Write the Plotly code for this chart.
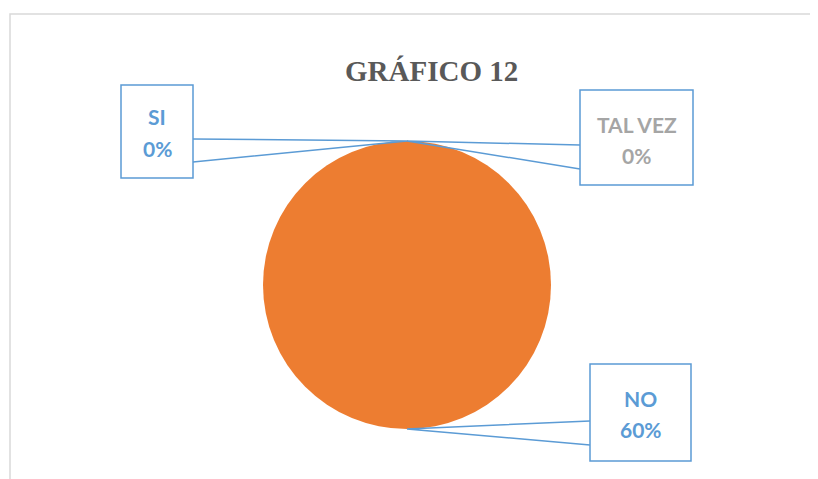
import plotly.graph_objects as go

categories = ["SI", "NO", "TAL VEZ"]
values = [0, 60, 0]
slice_colors = ["#5B9BD5", "#ED7D31", "#A5A5A5"]
label_colors = ["#5B9BD5", "#5B9BD5", "#A5A5A5"]
title_text = "GRÁFICO 12"

W, H = 818, 479
OFF = 8  # page body margin in the browser

def px(x):
    return (x - OFF) / W

def py(y):
    return 1 - (y - OFF) / H

fig = go.Figure()
fig.add_trace(go.Pie(
    labels=categories,
    values=values,
    marker=dict(colors=slice_colors, line=dict(width=0)),
    textinfo="none",
    hoverinfo="label+value",
    sort=False,
    direction="clockwise",
    rotation=0,
    showlegend=False,
    domain=dict(x=[px(263), px(551)], y=[py(429), py(141)]),
))

shapes = []
# outer chart border
shapes.append(dict(type="rect", xref="paper", yref="paper",
                   x0=px(10), y0=py(14), x1=px(840), y1=py(500),
                   line=dict(color="#D9D9D9", width=1.5), fillcolor="rgba(0,0,0,0)"))

# callouts keyed by category
callouts = {
    "SI": dict(box=(121, 85, 193, 178), side=193, ys=(139, 162), tip=(407, 141), lines=(117, 148)),
    "TAL VEZ": dict(box=(580, 90, 693, 185), side=580, ys=(145, 169), tip=(407, 141), lines=(124, 155)),
    "NO": dict(box=(590, 364, 691, 461), side=590, ys=(421, 445), tip=(407, 429), lines=(398, 429)),
}
blue = "#5B9BD5"
annotations = []
for i, cat in enumerate(categories):
    c = callouts[cat]
    x0, y0, x1, y1 = c["box"]
    shapes.append(dict(type="rect", xref="paper", yref="paper",
                       x0=px(x0), y0=py(y0), x1=px(x1), y1=py(y1),
                       line=dict(color=blue, width=1.5), fillcolor="white", layer="above"))
    tx, ty = c["tip"]
    s = c["side"]
    ya, yb = c["ys"]
    path = f"M {px(s)},{py(ya)} L {px(tx)},{py(ty)} L {px(s)},{py(yb)}"
    shapes.append(dict(type="path", xref="paper", yref="paper", path=path,
                       line=dict(color=blue, width=1.5), layer="above"))
    cx = (x0 + x1) / 2
    texts = [cat, f"{values[i]}%"]
    for t, yy in zip(texts, c["lines"]):
        annotations.append(dict(x=px(cx), y=py(yy), xref="paper", yref="paper",
                                text=f"<b>{t}</b>", showarrow=False,
                                xanchor="center", yanchor="middle",
                                font=dict(family="Lato, Open Sans, sans-serif", size=21,
                                          color=label_colors[i])))

annotations.append(dict(x=px(431), y=py(71), xref="paper", yref="paper",
                        text=f"<b>{title_text}</b>", showarrow=False,
                        xanchor="center", yanchor="middle",
                        font=dict(family="Liberation Serif, Times New Roman, serif", size=29,
                                  color="#595959")))

fig.update_layout(
    width=W, height=H,
    margin=dict(l=0, r=0, t=0, b=0),
    paper_bgcolor="white",
    plot_bgcolor="white",
    shapes=shapes,
    annotations=annotations,
    showlegend=False,
)

fig.write_html("out.html")
